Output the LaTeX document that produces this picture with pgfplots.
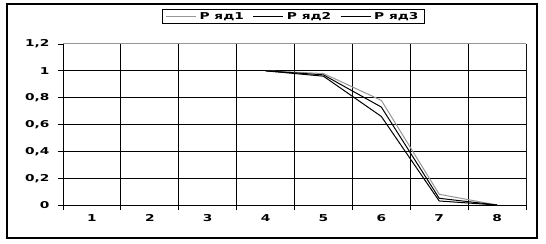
\documentclass[border=0pt]{standalone}
\usepackage{pgfplots}
\pgfplotsset{compat=1.18}
\usepackage{fontspec}
\setmainfont{DejaVu Sans}
\newfontfamily\lab{DejaVu Sans}[FakeStretch=1.45]
\definecolor{lgray}{RGB}{150,150,150}
\begin{document}
\begin{tikzpicture}[x=1bp,y=1bp]
\path[use as bounding box] (0,0) rectangle (546,243);
\draw[line width=1.2bp] (7,5) rectangle (537,239);
\begin{axis}[
  at={(63bp,38bp)}, anchor=south west,
  scale only axis, width=463bp, height=161bp,
  xmin=0.5, xmax=8.5, ymin=0, ymax=1.2,
  axis x line*=bottom, axis y line*=left,
  axis line style={black, line width=1bp},
  tick align=outside, major tick length=5bp,
  tick style={black, line width=0.9bp},
  xtick={0.5,1.5,...,8.5}, xticklabels={,,,,,,,,,}, xmajorgrids,
  extra x ticks={1,2,3,4,5,6,7,8},
  extra x tick labels={1,2,3,4,5,6,7,8},
  extra x tick style={grid=none, major tick length=0pt, tick style={draw=none}},
  ytick={0,0.2,0.4,0.6,0.8,1,1.2}, ymajorgrids,
  grid style={black, line width=1bp},
  /pgf/number format/assume math mode=true,
  /pgf/number format/use comma,
  tick label style={font=\lab\bfseries\fontsize{9.5}{11}\selectfont},
  yticklabel style={xshift=-5bp},
  xticklabel style={yshift=-6bp},
  legend columns=3,
  legend style={at={(0.498,1.171)}, anchor=center, draw=black, line width=1bp,
    font=\lab\bfseries\fontsize{9.5}{11}\selectfont, inner xsep=3bp, inner ysep=1bp,
    /tikz/every even column/.append style={column sep=6bp},
    nodes={inner xsep=3bp, inner ysep=1.5bp}},
  legend image code/.code={\draw[#1] (0bp,0bp) -- (30bp,0bp);},
]
\addplot[lgray, line width=1bp] coordinates {(4,1) (5,0.98) (6,0.78) (7,0.08) (8,0)};
\addlegendentry{Р яд1}
\addplot[black, line width=1bp] coordinates {(4,1) (5,0.97) (6,0.73) (7,0.05) (8,0)};
\addlegendentry{Р яд2}
\addplot[black, line width=1bp] coordinates {(4,1) (5,0.96) (6,0.66) (7,0.03) (8,0)};
\addlegendentry{Р яд3}
\draw[lgray, line width=1bp] (rel axis cs:0,1) -- (rel axis cs:1,1) -- (rel axis cs:1,0);
\end{axis}
\end{tikzpicture}
\end{document}
